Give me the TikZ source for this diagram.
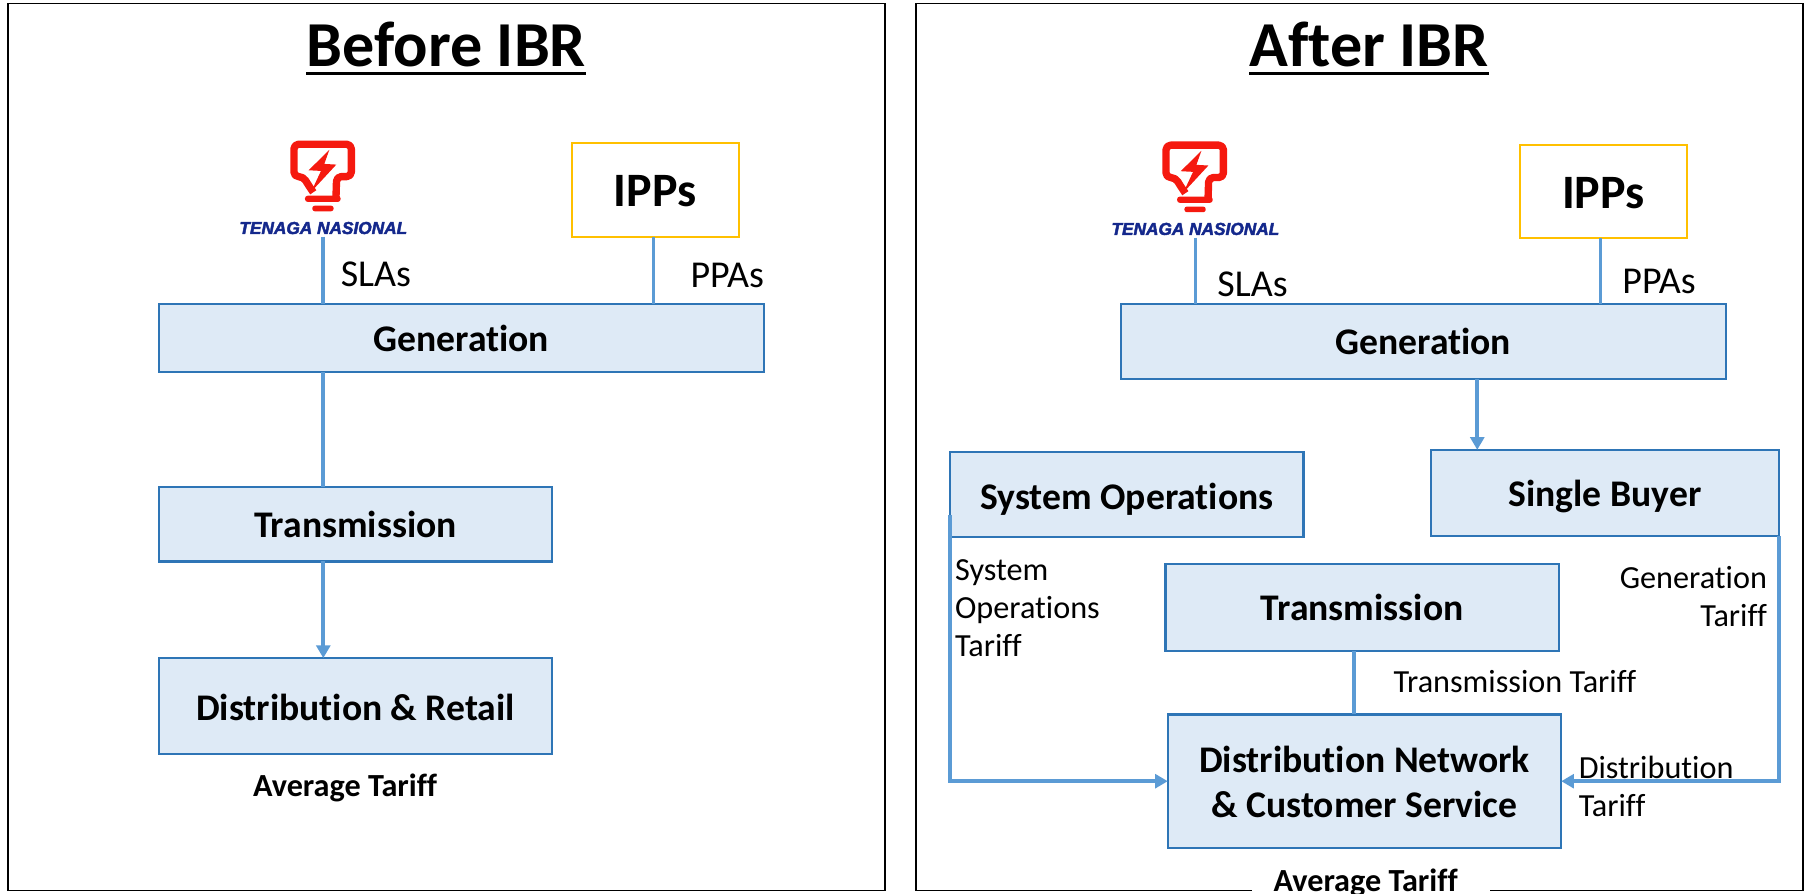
\documentclass[tikz,border=0pt]{standalone}
\usepackage{fontspec}
\setmainfont{Carlito}[Ligatures=NoCommon]
\newfontfamily\logofont{Liberation Sans Bold Italic}[FakeBold=2.5]
\usetikzlibrary{arrows.meta,calc}
\newcommand{\nudged}[2]{\raisebox{-#1}[\height][\depth]{#2}}
\definecolor{boxfill}{HTML}{DEEAF6}
\definecolor{boxline}{HTML}{2E75B6}
\definecolor{conn}{HTML}{5B9BD5}
\definecolor{ippline}{HTML}{FFC000}
\definecolor{tnbred}{HTML}{F5190F}
\definecolor{tnbblue}{HTML}{14288C}
\tikzset{
  x=1pt,y=-1pt,
  frame/.style={draw=black,line width=1.4pt,inner sep=0pt,outer sep=0pt},
  bluebox/.style={draw=boxline,line width=1.9pt,fill=boxfill,inner sep=0pt,outer sep=0pt,align=center,font=\fontsize{32.7}{38}\selectfont\bfseries},
  ippbox/.style={draw=ippline,line width=1.9pt,fill=white,inner sep=0pt,outer sep=0pt,font=\fontsize{41.7}{48}\selectfont\bfseries},
  titletext/.style={font=\fontsize{55.7}{64}\selectfont\bfseries,inner sep=0pt},
  titlerule/.style={draw=black,line width=2.9pt},
  lbl/.style={font=\fontsize{33}{38}\selectfont,inner sep=0pt,anchor=west},
  slbl/.style={font=\fontsize{28}{33}\selectfont,inner sep=0pt,align=left,anchor=north west},
  avg/.style={font=\fontsize{28}{32}\selectfont\bfseries,inner sep=0pt},
  link/.style={draw=conn,line width=3.2pt},
  arrowlink/.style={link,-{Triangle[length=11pt,width=12pt]}},
  tnb/.pic={
    \begin{scope}[x=0.29pt,y=-0.29pt]
      \draw[tnbred,line width=6.4pt,line join=round,rounded corners=4pt]
        (-30,-133) -- (-45,-155) -- (-60,-180) -- (-88,-180) -- (-88,-277) -- (84,-277) -- (84,-180) -- (40,-180) -- (38,-118);
      \fill[tnbred] (18,-260) -- (-44,-199) -- (-7,-197) -- (-36,-135) -- (39,-216) -- (3,-218) -- cycle;
      \fill[tnbred,rounded corners=2.5pt] (-55,-123) rectangle (52,-104);
      \fill[tnbred,rounded corners=2.2pt] (-33,-93) rectangle (31,-76);
    \end{scope}
    \node[inner sep=0pt,text=tnbblue] at (0,-7.5) {\logofont\fontsize{15}{16}\selectfont TENAGA NASIONAL};
  }
}
\begin{document}
\begin{tikzpicture}
\useasboundingbox (0,0) rectangle (1568,776.2);
% frames
\node[frame,minimum width=762pt,minimum height=771pt] (frameL) at (388,388.5) {};
\node[frame,minimum width=771pt,minimum height=771pt] (frameR) at (1181.5,388.5) {};
\fill[white] (1088,768) rectangle (1295,776.2);
% titles
\node[titletext] (titleL) at (388,39) {Before IBR};
\node[titletext] (titleR) at (1190,39) {After IBR};
\draw[titlerule] ($(titleL.base west)+(0,5.5)$) -- ($(titleL.base east)+(0,5.5)$);
\draw[titlerule] ($(titleR.base west)+(0,5.5)$) -- ($(titleR.base east)+(0,5.5)$);
% logos
\coordinate (logoL) at (281,205.7);
\coordinate (logoR) at (1039,206.5);
\pic at (logoL) {tnb};
\pic at (logoR) {tnb};
% left diagram
\node[ippbox,minimum width=145pt,minimum height=82pt] (ippL) at (569.5,165) {\nudged{1pt}{IPPs}};
\node[bluebox,minimum width=526pt,minimum height=59pt] (genL) at (401,293.5) {\nudged{1pt}{Generation}};
\node[bluebox,minimum width=342pt,minimum height=65pt] (trL) at (309,455.5) {Transmission};
\node[bluebox,minimum width=342pt,minimum height=83pt] (drL) at (309,613.5) {\nudged{1pt}{Distribution \& Retail}};
\draw[link] (logoL) -- (logoL |- genL.north);
\coordinate (iLx) at (568,0);
\draw[link] (ippL.south -| iLx) -- (genL.north -| iLx);
\coordinate (gLx) at (281,0);
\draw[link] (genL.south -| gLx) -- (trL.north -| gLx);
\draw[arrowlink] (trL.south -| gLx) -- (drL.north -| gLx);
\node[lbl] (slaL) at (296,238) {SLAs};
\node[lbl] (ppaL) at (600,239) {PPAs};
\node[avg] (avgL) at (300,684.5) {Average Tariff};
% right diagram
\node[ippbox,minimum width=145pt,minimum height=81pt] (ippR) at (1393.5,166.5) {\nudged{1pt}{IPPs}};
\node[bluebox,minimum width=526pt,minimum height=65pt] (genR) at (1237,297) {Generation};
\node[bluebox,minimum width=302pt,minimum height=75pt] (sb) at (1395,428.5) {\nudged{3pt}{Single Buyer}};
\node[bluebox,minimum width=307pt,minimum height=74pt] (so) at (979.5,430) {\nudged{4pt}{System Operations}};
\node[bluebox,minimum width=342pt,minimum height=76pt] (trR) at (1184,528) {Transmission};
\node[bluebox,minimum width=342pt,minimum height=116pt] (dn) at (1186,679) {Distribution Network\\[0pt]\nudged{1pt}{\& Customer Service}};
\draw[link] (logoR) -- (logoR |- genR.north);
\coordinate (iRx) at (1391,0);
\draw[link] (ippR.south -| iRx) -- (genR.north -| iRx);
\coordinate (gRx) at (1284,0);
\draw[arrowlink] (genR.south -| gRx) -- (sb.north -| gRx);
\coordinate (tRx) at (1177,0);
\draw[link] (trR.south -| tRx) -- (dn.north -| tRx);
\coordinate (soS) at (826,448);
\draw[arrowlink] (soS) -- (soS |- dn.west) -- (dn.west);
\draw[arrowlink] (sb.south east) -- (sb.south east |- dn.east) -- (dn.east);
\node[lbl] (slaR) at (1058,247) {SLAs};
\node[lbl] (ppaR) at (1410,245) {PPAs};
\node[slbl] (soT) at (830,486) {System\\Operations\\Tariff};
\node[font=\fontsize{28}{33}\selectfont,inner sep=0pt,align=right,anchor=north east] (gT) at (1536,492) {Generation\\Tariff};
\node[lbl,font=\fontsize{28}{33}\selectfont] (tT) at (1211,592) {Transmission Tariff};
\node[slbl] (dT) at (1372,657) {Distribution};
\node[slbl] (dT2) at (1372,690) {Tariff};
\node[avg] (avgR) at (1187,767) {Average Tariff};
\end{tikzpicture}
\end{document}
